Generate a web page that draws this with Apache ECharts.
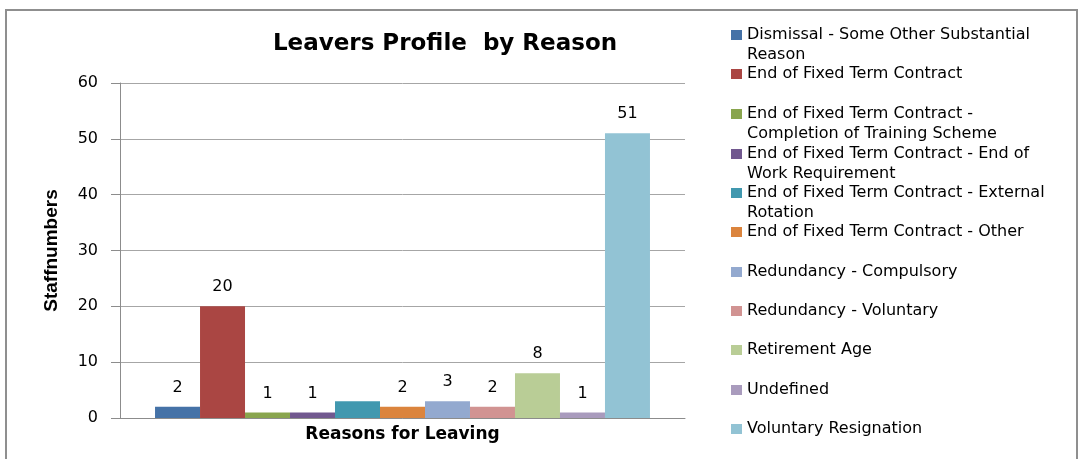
<!DOCTYPE html>
<html>
<head>
<meta charset="utf-8">
<title>Leavers Profile by Reason</title>
<script src="https://cdn.jsdelivr.net/npm/echarts@6/dist/echarts.min.js"></script>
<style>
  html, body { margin: 0; padding: 0; background: #ffffff; }
  #chart { width: 1079px; height: 459px; }
</style>
</head>
<body>
<div id="chart"></div>
<script>
// Leavers by reason for leaving (one bar per reason)
const reasons = [
  'Dismissal - Some Other Substantial Reason',
  'End of Fixed Term Contract',
  'End of Fixed Term Contract - Completion of Training Scheme',
  'End of Fixed Term Contract - End of Work Requirement',
  'End of Fixed Term Contract - External Rotation',
  'End of Fixed Term Contract - Other',
  'Redundancy - Compulsory',
  'Redundancy - Voluntary',
  'Retirement Age',
  'Undefined',
  'Voluntary Resignation'
];
// Legend wording, wrapped the way it is printed
const legendText = [
  'Dismissal - Some Other Substantial\nReason',
  'End of Fixed Term Contract',
  'End of Fixed Term Contract -\nCompletion of Training Scheme',
  'End of Fixed Term Contract - End of\nWork Requirement',
  'End of Fixed Term Contract - External\nRotation',
  'End of Fixed Term Contract - Other',
  'Redundancy - Compulsory',
  'Redundancy - Voluntary',
  'Retirement Age',
  'Undefined',
  'Voluntary Resignation'
];
const staffNumbers = [2, 20, 1, 1, 3, 2, 3, 2, 8, 1, 51];
// Reasons printed without a value label
const unlabelled = ['End of Fixed Term Contract - External Rotation'];
const yTicks = { min: 0, max: 60, interval: 10 };

const colors = ['#4572A7', '#AA4643', '#89A54E', '#71588F', '#4198AF', '#DB843D',
                '#93A9CF', '#D19392', '#B9CD96', '#A99BBD', '#92C3D4'];

const FONT = 'DejaVu Sans';

// Vertical centre of each legend entry's first line
const legendRows = [35, 74, 114, 154, 193, 232, 272, 311, 350, 390, 429];

const legends = reasons.map((name, i) => {
  const wrapped = legendText[i].indexOf('\n') >= 0;
  // A leading blank line keeps the swatch level with the first printed line
  const shown = wrapped ? '\n' + legendText[i] : legendText[i];
  return {
    data: [name],
    orient: 'vertical',
    left: 731,
    top: legendRows[i] - (wrapped ? 30 : 10),
    padding: 0,
    icon: 'rect',
    itemWidth: 11,
    itemHeight: 10,
    selectedMode: false,
    formatter: () => shown,
    textStyle: {
      fontFamily: FONT,
      fontSize: 16,
      color: '#000000',
      lineHeight: 20
    }
  };
});

const series = reasons.map((name, i) => ({
  name: name,
  type: 'bar',
  data: [staffNumbers[i]],
  barGap: '0%',
  barCategoryGap: '12.4%',
  itemStyle: { color: colors[i] },
  label: {
    show: unlabelled.indexOf(name) < 0,
    position: 'top',
    distance: 11,
    fontFamily: FONT,
    fontSize: 16,
    color: '#000000'
  }
}));

const chart = echarts.init(document.getElementById('chart'), null, { renderer: 'canvas' });
chart.setOption({
  animation: false,
  backgroundColor: '#ffffff',
  color: colors,
  title: {
    text: 'Leavers Profile  by Reason',
    left: 440,
    top: 28,
    textAlign: 'center',
    textStyle: { fontFamily: FONT, fontSize: 23, fontWeight: 'bold', color: '#000000' }
  },
  graphic: [{
    type: 'rect',
    shape: { x: 6, y: 10, width: 1071, height: 470 },
    style: { fill: 'none', stroke: '#8f8f8f', lineWidth: 2 },
    silent: true
  }],
  legend: legends,
  grid: { left: 120, top: 83, width: 565, height: 335 },
  xAxis: {
    type: 'category',
    data: [''],
    name: 'Reasons for Leaving',
    nameLocation: 'middle',
    nameGap: 8,
    nameTextStyle: {
      fontFamily: FONT, fontSize: 17, fontWeight: 'bold', color: '#000000',
      verticalAlign: 'top'
    },
    axisLine: { lineStyle: { color: '#8c8c8c', width: 1 } },
    axisTick: { show: false },
    axisLabel: { show: false }
  },
  yAxis: {
    type: 'value',
    min: yTicks.min,
    max: yTicks.max,
    interval: yTicks.interval,
    name: 'Staffnumbers',
    nameLocation: 'middle',
    nameGap: 59,
    nameTextStyle: {
      fontFamily: 'Liberation Sans Narrow, Liberation Sans', fontSize: 19,
      fontWeight: 'bold', color: '#000000'
    },
    axisLine: { show: true, lineStyle: { color: '#8c8c8c', width: 1 } },
    axisTick: { show: true, length: 9, lineStyle: { color: '#8c8c8c' } },
    axisLabel: { margin: 22, fontFamily: FONT, fontSize: 16, color: '#000000' },
    splitLine: { lineStyle: { color: '#a6a6a6', width: 1 } }
  },
  series: series
});
</script>
</body>
</html>
